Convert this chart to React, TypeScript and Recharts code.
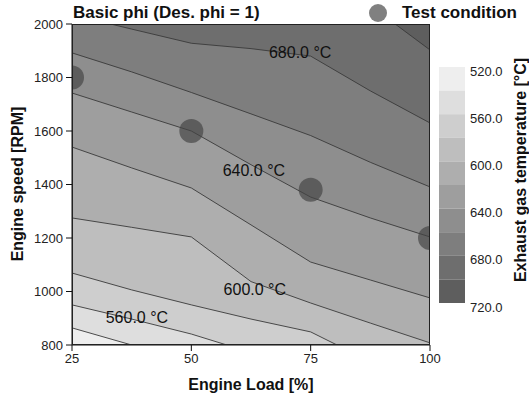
import {
  ComposedChart,
  Area,
  Line,
  Scatter,
  XAxis,
  YAxis,
  CartesianGrid,
} from "recharts";

// engine load [%] where the isotherms are sampled
const loads = [25, 37.5, 50, 62.5, 75, 87.5, 100];

// isotherm levels [°C]
const levels = [540, 560, 580, 600, 620, 640, 660, 680, 700];

// engine speed [RPM] of each isotherm at the loads above
const iso540 = [864, 800, 734, 673, 609, 547, 482];
const iso560 = [950, 897, 841, 772, 701, 630, 560];
const iso580 = [1069, 1006, 950, 897, 849, 738, 628];
const iso600 = [1275, 1240, 1204, 1037, 957, 882, 808];
const iso620 = [1540, 1462, 1387, 1249, 1110, 1043, 976];
const iso640 = [1742, 1671, 1600, 1474, 1353, 1275, 1204];
const iso660 = [1892, 1821, 1744, 1664, 1583, 1483, 1391];
const iso680 = [2035, 1981, 1928, 1908, 1880, 1750, 1630];
const iso700 = [2900, 2730, 2560, 2400, 2231, 2069, 1903];
const isotherms = [iso540, iso560, iso580, iso600, iso620, iso640, iso660, iso680, iso700];

// measured operating points
const testLoads = [25, 50, 75, 100];
const testSpeeds = [1800, 1600, 1380, 1200];

// inline isotherm labels
const labelLevels = [680, 640, 600, 560];
const labelLoads = [72.8, 63.1, 63.3, 38.6];
const labelSpeeds = [1892, 1454, 1006, 901];

// colour bar
const barEdges = [520, 540, 560, 580, 600, 620, 640, 660, 680, 700, 720];
const barTicks = [520, 560, 600, 640, 680, 720];

const loadTicks = [25, 50, 75, 100];
const speedTicks = [800, 1000, 1200, 1400, 1600, 1800, 2000];

const FONT = '"Liberation Sans", Arial, Helvetica, sans-serif';
const bandColors = [
  "#eeeeee",
  "#dedede",
  "#cecece",
  "#bebebe",
  "#aeaeae",
  "#9e9e9e",
  "#8e8e8e",
  "#7e7e7e",
  "#6e6e6e",
  "#5e5e5e",
];

const rows = loads.map((load, j) => {
  const row: Record<string, number> = { load };
  levels.forEach((lv, i) => {
    row[`t${lv}`] = isotherms[i][j];
  });
  return row;
});

const testPoints = testLoads.map((load, i) => ({ load, speed: testSpeeds[i] }));
const labelPoints = labelLevels.map((level, i) => ({
  level,
  load: labelLoads[i],
  speed: labelSpeeds[i],
}));

const cells = barEdges.slice(0, -1).map((lo, i) => ({ lo, hi: barEdges[i + 1] }));

const boldText = {
  position: "absolute" as const,
  fontFamily: FONT,
  fontWeight: 700,
  fontSize: 16,
  color: "#111",
  whiteSpace: "nowrap" as const,
  lineHeight: "18px",
};

function ColorBar() {
  return (
    <ComposedChart
      width={90}
      height={266}
      data={[{ x: 0 }, { x: 1 }]}
      margin={{ top: 10, right: 0, bottom: 20, left: 0 }}
    >
      <XAxis dataKey="x" type="number" domain={[0, 1]} hide />
      <YAxis
        orientation="right"
        type="number"
        domain={[520, 720]}
        reversed
        ticks={barTicks}
        interval={0}
        width={64}
        tickLine={false}
        axisLine={false}
        tickSize={0}
        tickMargin={5}
        tickFormatter={(v: number) => v.toFixed(1)}
        tick={{ fontSize: 13, fill: "#222", fontFamily: FONT, dy: 4 }}
      />
      {cells.map((c, i) => (
        <Area
          key={c.lo}
          type="linear"
          dataKey={() => [c.lo, c.hi]}
          stroke="none"
          fill={bandColors[i]}
          fillOpacity={1}
          isAnimationActive={false}
          activeDot={false}
        />
      ))}
    </ComposedChart>
  );
}

export default function App() {
  return (
    <div
      style={{
        position: "absolute",
        left: 0,
        top: 0,
        width: 529,
        height: 397,
        background: "#fff",
        fontFamily: FONT,
      }}
    >
      <ComposedChart
        width={529}
        height={397}
        data={rows}
        margin={{ top: 24, right: 99, bottom: 22, left: 12 }}
      >
        <defs>
          <clipPath id="plot-clip">
            <rect x={72} y={24} width={358} height={321} />
          </clipPath>
        </defs>
        <CartesianGrid fill={bandColors[9]} horizontal={false} vertical={false} />
        <XAxis
          dataKey="load"
          type="number"
          domain={[25, 100]}
          ticks={loadTicks}
          allowDataOverflow
          height={30}
          tickSize={6}
          tickMargin={3}
          stroke="#111"
          tick={{ fontSize: 13, fill: "#222", fontFamily: FONT }}
        />
        <YAxis
          type="number"
          domain={[800, 2000]}
          ticks={speedTicks}
          interval={0}
          allowDataOverflow
          width={60}
          tickSize={6}
          tickMargin={3}
          stroke="#111"
          tick={{ fontSize: 13, fill: "#222", fontFamily: FONT }}
        />

        {/* filled bands: each isotherm paints the band below it */}
        {[...levels].reverse().map((lv) => (
          <Area
            key={`a${lv}`}
            type="linear"
            dataKey={`t${lv}`}
            baseValue={800}
            stroke="none"
            fill={bandColors[levels.indexOf(lv)]}
            fillOpacity={1}
            isAnimationActive={false}
            activeDot={false}
          />
        ))}

        {levels.map((lv) => (
          <Line
            key={`l${lv}`}
            type="linear"
            dataKey={`t${lv}`}
            stroke="#3a3a3a"
            strokeWidth={0.9}
            dot={false}
            activeDot={false}
            isAnimationActive={false}
          />
        ))}

        <Scatter
          data={testPoints}
          dataKey="speed"
          isAnimationActive={false}
          shape={(p: any) => (
            <circle
              cx={p.cx}
              cy={p.cy}
              r={12}
              fill="#444"
              fillOpacity={0.68}
              clipPath="url(#plot-clip)"
            />
          )}
        />

        <Scatter
          data={labelPoints}
          dataKey="speed"
          isAnimationActive={false}
          shape={(p: any) => (
            <text
              x={p.cx}
              y={p.cy}
              textAnchor="middle"
              dominantBaseline="central"
              fontSize={16}
              fontFamily={FONT}
              fill="#111"
            >
              {`${p.payload.level.toFixed(1)} °C`}
            </text>
          )}
        />
      </ComposedChart>

      {/* plot frame */}
      <div
        style={{
          position: "absolute",
          left: 72,
          top: 24,
          width: 358,
          height: 321,
          boxSizing: "border-box",
          border: "1px solid #222",
          pointerEvents: "none",
        }}
      />

      <div style={{ ...boldText, fontSize: 17, left: 73, top: 4 }}>
        Basic phi (Des. phi = 1)
      </div>

      <div
        style={{
          position: "absolute",
          left: 369,
          top: 4,
          width: 18,
          height: 18,
          borderRadius: "50%",
          background: "#444",
          opacity: 0.68,
        }}
      />
      <div style={{ ...boldText, fontSize: 17, left: 402, top: 4 }}>Test condition</div>

      <div style={{ ...boldText, left: 251, top: 376, transform: "translateX(-50%)" }}>
        Engine Load [%]
      </div>
      <div
        style={{
          ...boldText,
          left: 18,
          top: 184,
          transform: "translate(-50%, -50%) rotate(-90deg)",
        }}
      >
        Engine speed [RPM]
      </div>
      <div
        style={{
          ...boldText,
          left: 521,
          top: 170,
          transform: "translate(-50%, -50%) rotate(-90deg)",
        }}
      >
        Exhaust gas temperature [°C]
      </div>

      <div style={{ position: "absolute", left: 439, top: 57 }}>
        <ColorBar />
      </div>
    </div>
  );
}
